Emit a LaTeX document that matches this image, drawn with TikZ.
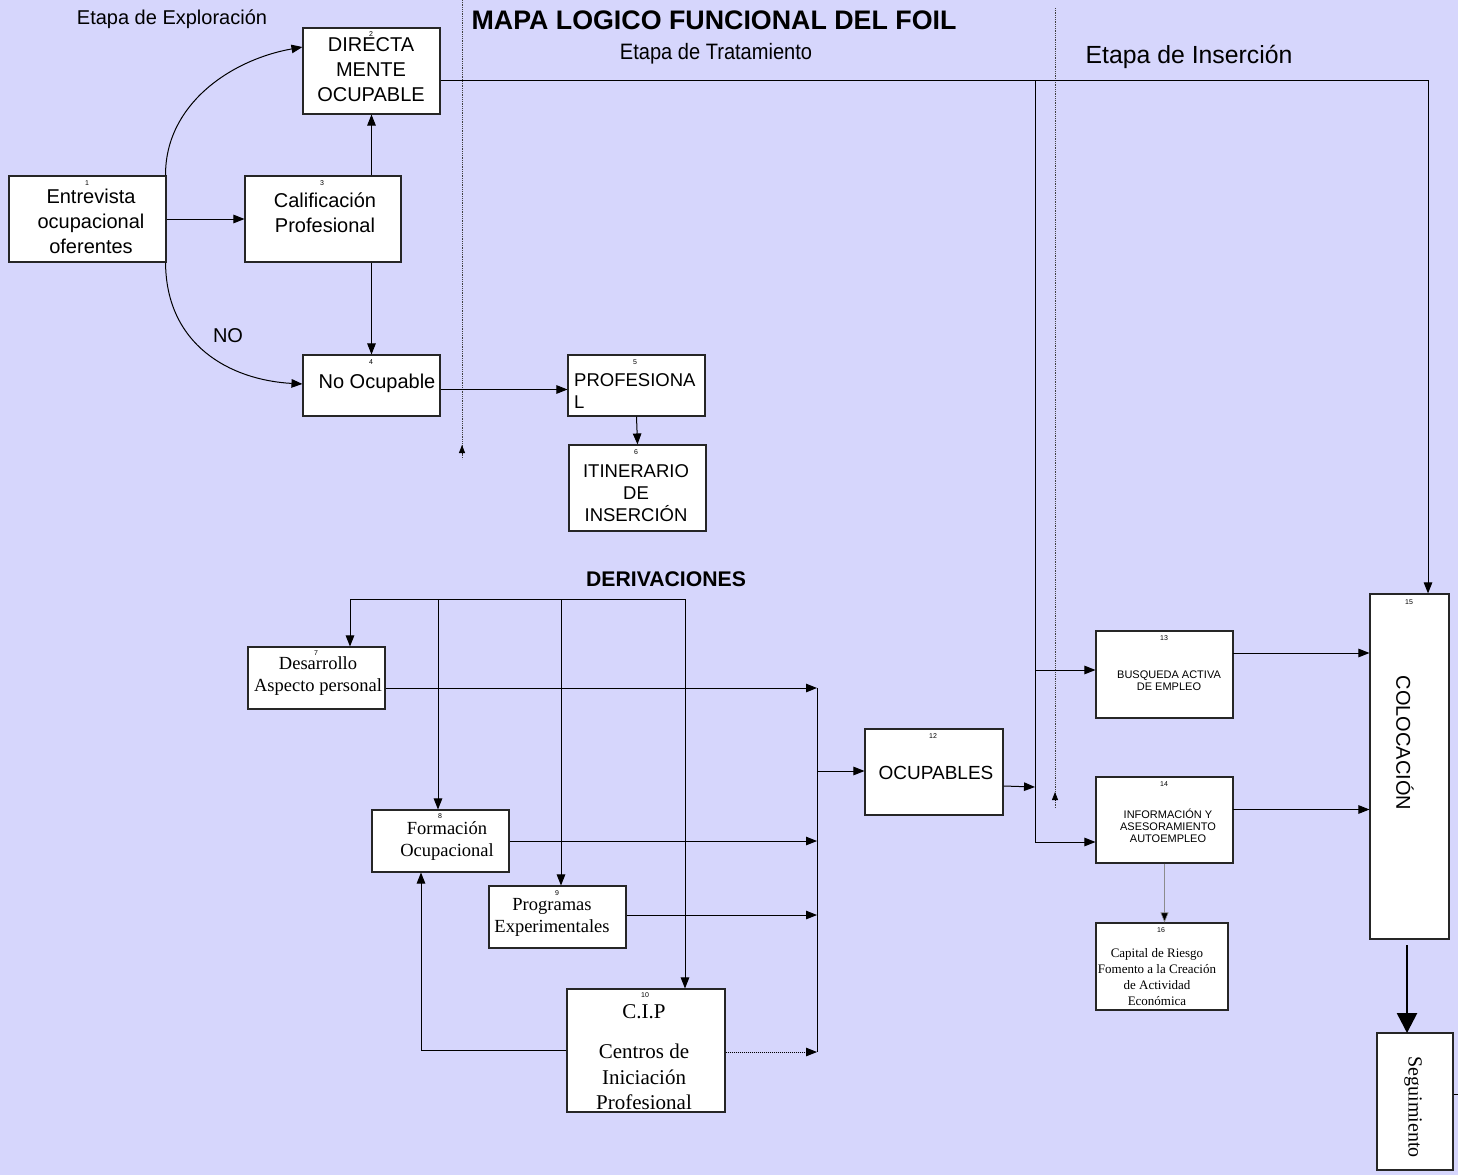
\documentclass[tikz,border=0pt]{standalone}
\usepackage{fontspec}
\setmainfont{Liberation Serif}
\setsansfont{Liberation Sans}
\newfontfamily\narrowsans[FakeStretch=0.9]{Liberation Sans}
\usetikzlibrary{arrows.meta}
\definecolor{bgc}{RGB}{214,214,252}
\tikzset{
  box/.style={draw=black!85, fill=white, line width=1.1pt, inner sep=0pt},
  num/.style={font=\sffamily\fontsize{7}{8}\selectfont, inner sep=0pt},
  st/.style={font=\sffamily\fontsize{20}{25}\selectfont, align=center, inner sep=0pt},
  stm/.style={font=\sffamily\fontsize{18.5}{22}\selectfont, align=center, inner sep=0pt},
  sts/.style={font=\sffamily\fontsize{11}{12}\selectfont, align=center, inner sep=0pt},
  rm/.style={font=\rmfamily\fontsize{18.5}{22}\selectfont, align=center, inner sep=0pt},
  rmb/.style={font=\rmfamily\fontsize{21}{25.5}\selectfont, align=center, inner sep=0pt},
  rms/.style={font=\rmfamily\fontsize{13}{16}\selectfont, align=center, inner sep=0pt},
  conn/.style={line width=1pt, draw=black},
  arr/.style={conn, -{Triangle[length=11pt,width=8.5pt]}},
  bigarr/.style={line width=2.6pt, draw=black, -{Triangle[length=20pt,width=20pt]}},
  dotl/.style={line width=0.8pt, draw=black!75, densely dotted},
}
\begin{document}
\begin{tikzpicture}[x=1pt,y=-1pt]
\fill[bgc] (0,0) rectangle (1458,1175);
\useasboundingbox (0,0) rectangle (1458,1175);

% headings
\node[font=\sffamily\bfseries\fontsize{26.8}{30}\selectfont, inner sep=0pt] (title) at (714,20) {MAPA LOGICO FUNCIONAL DEL FOIL};
\node[font=\sffamily\fontsize{20}{22}\selectfont, inner sep=0pt] (hexp) at (172,19) {Etapa de Exploración};
\node[font=\narrowsans\fontsize{22.3}{24}\selectfont, inner sep=0pt] (htra) at (716,54) {Etapa de Tratamiento};
\node[font=\sffamily\fontsize{24.8}{27}\selectfont, inner sep=0pt] (hins) at (1189,57) {Etapa de Inserción};
\node[font=\sffamily\bfseries\fontsize{21.2}{24}\selectfont, inner sep=0pt] (hder) at (666,579) {DERIVACIONES};
\node[font=\sffamily\fontsize{20}{24}\selectfont, inner sep=0pt] (lno) at (228,336) {NO};

% dotted stage separators
\coordinate (s1t) at (462,0);
\coordinate (s1b) at (462,459);
\coordinate (s1a) at (462,454);
\coordinate (s1h) at (462,445);
\draw[dotl] (s1t) -- (s1b);
\draw[line width=0.8pt, -{Triangle[length=8pt,width=6pt]}] (s1a) -- (s1h);
\coordinate (s2t) at (1055,8);
\coordinate (s2b) at (1055,808);
\coordinate (s2a) at (1055,801);
\coordinate (s2h) at (1055,792);
\draw[dotl] (s2t) -- (s2b);
\draw[line width=0.8pt, -{Triangle[length=8pt,width=6pt]}] (s2a) -- (s2h);

% boxes
\node[box, minimum width=157pt, minimum height=86pt] (b1) at (87.5,219) {};
\node[box, minimum width=137pt, minimum height=86pt] (b2) at (371.5,71) {};
\node[box, minimum width=156pt, minimum height=86pt] (b3) at (323,219) {};
\node[box, minimum width=137pt, minimum height=61pt] (b4) at (371.5,385.5) {};
\node[box, minimum width=137pt, minimum height=61pt] (b5) at (636.5,385.5) {};
\node[box, minimum width=137pt, minimum height=86pt] (b6) at (637.5,488) {};
\node[box, minimum width=137pt, minimum height=62pt] (b7) at (316.5,678) {};
\node[box, minimum width=137pt, minimum height=62pt] (b8) at (440.5,841) {};
\node[box, minimum width=137pt, minimum height=62pt] (b9) at (557.5,917) {};
\node[box, minimum width=158pt, minimum height=123pt] (b10) at (646,1050.5) {};
\node[box, minimum width=138pt, minimum height=86pt] (b12) at (934,772) {};
\node[box, minimum width=137pt, minimum height=87pt] (b13) at (1164.5,674.5) {};
\node[box, minimum width=137pt, minimum height=86pt] (b14) at (1164.5,820) {};
\node[box, minimum width=79pt, minimum height=345pt] (b15) at (1409.5,766.5) {};
\node[box, minimum width=132pt, minimum height=87pt] (b16) at (1162,966.5) {};
\node[box, minimum width=76pt, minimum height=137pt] (b17) at (1415,1101.5) {};

% box numbers
\node[num] (n1) at (87,183) {1};
\node[num] (n2) at (371,34) {2};
\node[num] (n3) at (322,183) {3};
\node[num] (n4) at (371,362) {4};
\node[num] (n5) at (635,362) {5};
\node[num] (n6) at (636,452) {6};
\node[num] (n7) at (316,653) {7};
\node[num] (n8) at (440,816) {8};
\node[num] (n9) at (557,893) {9};
\node[num] (n10) at (645,995) {10};
\node[num] (n12) at (933,736) {12};
\node[num] (n13) at (1164,638) {13};
\node[num] (n14) at (1164,784) {14};
\node[num] (n15) at (1409,602) {15};
\node[num] (n16) at (1161,930) {16};

% box texts
\node[st] (t1) at (91,221) {Entrevista\\ocupacional\\oferentes};
\node[st] (t2) at (371,70) {DIRECTA\\MENTE\\OCUPABLE};
\node[st] (t3) at (325,213) {Calificación\\Profesional};
\node[st] (t4) at (377,383) {No Ocupable};
\node[stm, align=left, anchor=west] (t5) at (574,391) {PROFESIONA\\L};
\node[stm] (t6) at (636,493) {ITINERARIO\\DE\\INSERCIÓN};
\node[rm] (t7) at (318,676) {Desarrollo\\Aspecto personal};
\node[rm] (t8) at (447,841) {Formación\\Ocupacional};
\node[rm] (t9) at (552,917) {Programas\\Experimentales};
\node[rmb] (t10a) at (644,1012) {C.I.P};
\node[rmb] (t10b) at (644,1077) {Centros de\\Iniciación\\Profesional};
\node[font=\sffamily\fontsize{19}{22}\selectfont, inner sep=0pt] (t12) at (936,773) {OCUPABLES};
\node[sts] (t13) at (1169,681) {BUSQUEDA ACTIVA\\DE EMPLEO};
\node[sts] (t14) at (1168,826) {INFORMACIÓN Y\\ASESORAMIENTO\\AUTOEMPLEO};
\node[font=\sffamily\fontsize{20}{24}\selectfont, inner sep=0pt, rotate=-90] (t15) at (1405,743) {COLOCACIÓN};
\node[rms] (t16) at (1157,977) {Capital de Riesgo\\Fomento a la Creación\\de Actividad\\Económica};
\node[font=\rmfamily\fontsize{20}{24}\selectfont, inner sep=0pt, rotate=-90] (t17) at (1413,1107) {Seguimiento};

% exploration connectors
\draw[arr] (b1) -- (b3);
\draw[arr] ([xshift=-1pt]b1.north east) .. controls (165,105) and (230,60) .. ([yshift=24pt]b2.west);
\draw[arr] ([xshift=-1pt]b1.south east) .. controls (166,345) and (230,380) .. ([yshift=1.5pt]b4.west);
\draw[arr] (b2.south |- b3.north) -- (b2.south);
\draw[arr] (b4.north |- b3.south) -- (b4.north);
\draw[arr] ([yshift=-4pt]b4.east) -- ([yshift=-4pt]b5.west);
\draw[arr] (b5.south) -- (b6.north);

% top line to insertion
\coordinate (jtop) at (1035,80);
\coordinate (j13) at (1035,670);
\coordinate (j12) at (1035,787);
\coordinate (j14) at (1035,842);
\draw[arr] ([yshift=-9pt]b2.east) -| ([xshift=18.5pt]b15.north);
\draw[conn] (jtop) -- (j14);
\draw[arr] (j13) -- (b13.west |- j13);
\draw[arr] (j14) -- (b14.west |- j14);
\draw[arr] ([yshift=-14pt]b12.east) -- (j12);

% insertion connectors
\coordinate (c13) at (1233,653);
\coordinate (c14) at (1233,809.5);
\draw[arr] (c13) -- (b15.west |- c13);
\draw[arr] (c14) -- (b15.west |- c14);
\draw[line width=0.6pt, draw=black!45, -{Triangle[length=10pt,width=8pt,fill=black]}] (b14.south) -- (b14.south |- b16.north);
\coordinate (c15) at (1407,945);
\coordinate (c17) at (1407,1033);
\draw[bigarr] (c15) -- (c17);
\draw[conn] ([yshift=7.5pt]b17.east) -- ++(6,0);

% derivaciones
\coordinate (d7) at (350,599);
\coordinate (d8) at (438,599);
\coordinate (d9) at (561,599);
\coordinate (d10) at (685,599);
\draw[conn] (d7) -- (d10);
\draw[arr] (d7) -- (d7 |- b7.north);
\draw[arr] (d8) -- (d8 |- b8.north);
\draw[arr] (d9) -- (d9 |- b9.north);
\draw[arr] (d10) -- (d10 |- b10.north);

\coordinate (m7) at (817,688);
\coordinate (m12) at (817,771);
\coordinate (m8) at (817,841);
\coordinate (m9) at (817,915);
\coordinate (m10) at (817,1052);
\draw[arr] (b7.east |- m7) -- (m7);
\draw[arr] (b8.east |- m8) -- (m8);
\draw[arr] (b9.east |- m9) -- (m9);
\draw[line width=1pt, densely dotted] (b10.east |- m10) -- ([xshift=-10pt]m10);
\draw[arr] ([xshift=-11pt]m10) -- (m10);
\draw[conn] (m7) -- (m10);
\draw[arr] (m12) -- (b12.west |- m12);
\draw[arr] (b10.west) -| ([xshift=-19.5pt]b8.south);
\end{tikzpicture}
\end{document}
